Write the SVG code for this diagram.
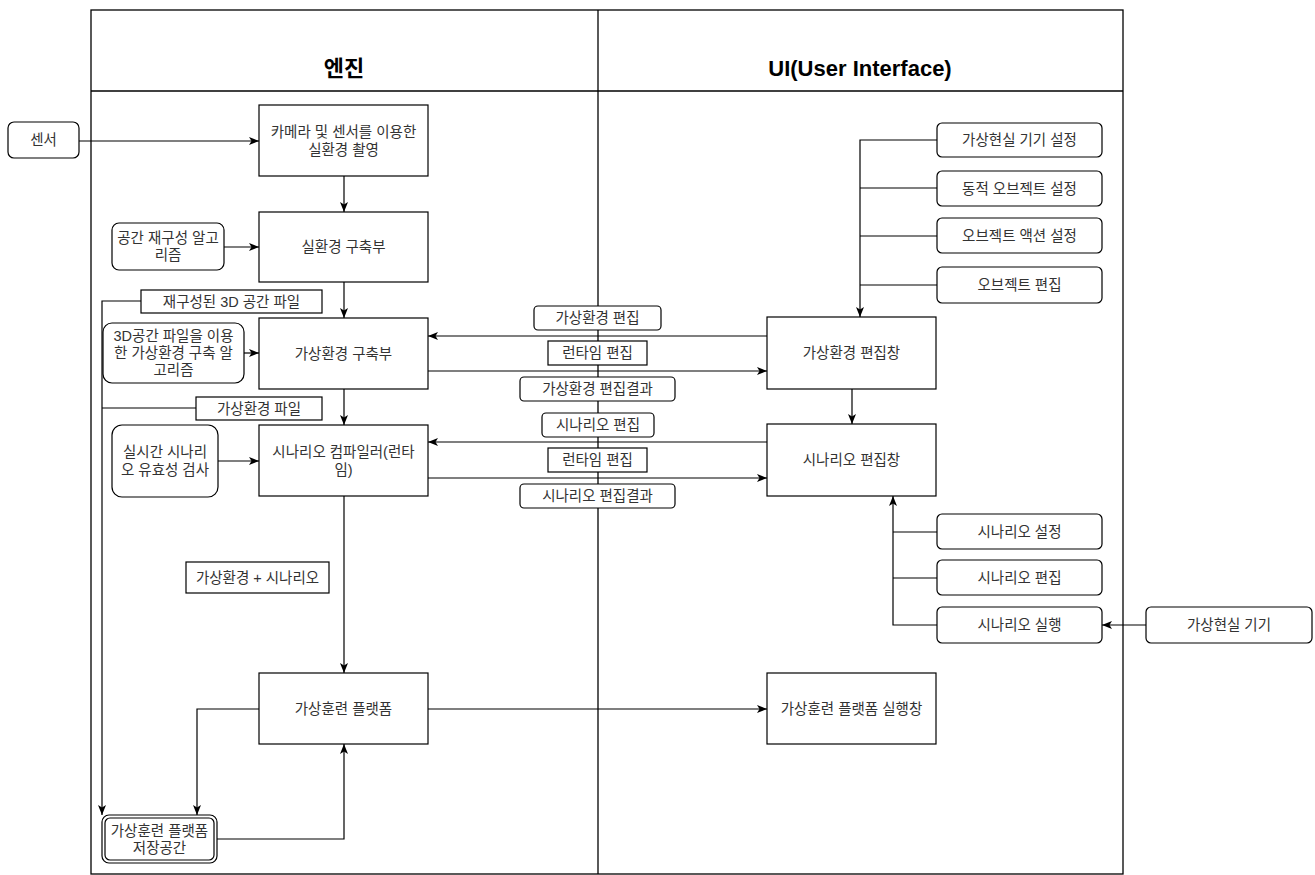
<svg xmlns="http://www.w3.org/2000/svg" width="1315" height="875" viewBox="0 0 1315 875">
<defs>
<marker id="arr" markerWidth="10" markerHeight="8" refX="10" refY="4" orient="auto" markerUnits="userSpaceOnUse">
<path d="M0,0 L10,4 L0,8 L2.5,4 z" fill="#000"/>
</marker>
<style>
.box{fill:#fff;stroke:#000;stroke-width:1.2}
.t{font-family:"Liberation Sans","Noto Sans CJK KR",sans-serif;font-size:14.5px;fill:#333;text-anchor:middle;dominant-baseline:central}
.h{font-family:"Liberation Sans","Noto Sans CJK KR",sans-serif;font-size:22px;font-weight:bold;fill:#000;text-anchor:middle}
.c{fill:none;stroke:#000;stroke-width:1.2}
.ca{fill:none;stroke:#000;stroke-width:1.2;marker-end:url(#arr)}
</style>
</defs>
<rect width="1315" height="875" fill="#fff"/>
<g id="pool">
<rect x="91" y="10" width="1032" height="864" fill="none" stroke="#000" stroke-width="1.3"/>
<line x1="91" y1="91" x2="1123" y2="91" stroke="#000" stroke-width="1.3"/>
<line x1="598" y1="10" x2="598" y2="874" stroke="#000" stroke-width="1.3"/>
<text class="h" x="344" y="76">엔진</text>
<text class="h" x="860" y="76">UI(User Interface)</text>
</g>
<g id="connectors">
<path class="ca" d="M79,141 L259,141"/>
<path class="ca" d="M344,176 L344,212"/>
<path class="ca" d="M224,247 L259,247"/>
<path class="ca" d="M344,282 L344,318"/>
<path class="ca" d="M244,353 L259,353"/>
<path class="ca" d="M344,389 L344,425"/>
<path class="ca" d="M218,461 L259,461"/>
<path class="ca" d="M344,496 L344,673"/>
<path class="ca" d="M259,709 L197,709 L197,815"/>
<path class="ca" d="M217,839 L344,839 L344,744"/>
<path class="ca" d="M428,709 L767,709"/>
<path class="ca" d="M141,301 L102,301 L102,815"/>
<path class="c" d="M196,408 L102,408"/>
<path class="ca" d="M767,336 L428,336"/>
<path class="ca" d="M428,371 L767,371"/>
<path class="ca" d="M852,389 L852,424"/>
<path class="ca" d="M767,442 L428,442"/>
<path class="ca" d="M428,478 L767,478"/>
<path class="ca" d="M937,140 L860,140 L860,317"/>
<path class="c" d="M937,188 L860,188"/>
<path class="c" d="M937,236 L860,236"/>
<path class="c" d="M937,285 L860,285"/>
<path class="ca" d="M937,625 L893,625 L893,496"/>
<path class="c" d="M937,532 L893,532"/>
<path class="c" d="M937,578 L893,578"/>
<path class="ca" d="M1146,625 L1102,625"/>
</g>
<g id="sensor"><rect class="box" x="8" y="122" width="71" height="36" rx="6"/><text class="t" x="43.5" y="140">센서</text></g>
<g id="camera"><rect class="box" x="259" y="105" width="169" height="71"/><text class="t" x="343.5" y="132">카메라 및 센서를 이용한</text><text class="t" x="343.5" y="150">실환경 촬영</text></g>
<g id="real-env"><rect class="box" x="259" y="212" width="169" height="70"/><text class="t" x="343.5" y="247">실환경 구축부</text></g>
<g id="space-algo"><rect class="box" x="112" y="223" width="112" height="47" rx="7"/><text class="t" x="168" y="238">공간 재구성 알고</text><text class="t" x="168" y="255">리즘</text></g>
<g id="label-3dfile"><rect class="box" x="141" y="290" width="181" height="23"/><text class="t" x="231.5" y="301.5">재구성된 3D 공간 파일</text></g>
<g id="virtual-env"><rect class="box" x="259" y="318" width="169" height="71"/><text class="t" x="343.5" y="353.5">가상환경 구축부</text></g>
<g id="vr-algo"><rect class="box" x="103" y="323" width="141" height="60" rx="9"/><text class="t" x="173.5" y="336">3D공간 파일을 이용</text><text class="t" x="173.5" y="353">한 가상환경 구축 알</text><text class="t" x="173.5" y="370">고리즘</text></g>
<g id="label-vrfile"><rect class="box" x="196" y="397" width="126" height="23"/><text class="t" x="259" y="408.5">가상환경 파일</text></g>
<g id="compiler"><rect class="box" x="259" y="425" width="169" height="71"/><text class="t" x="343.5" y="452">시나리오 컴파일러(런타</text><text class="t" x="343.5" y="470">임)</text></g>
<g id="validity"><rect class="box" x="112" y="425" width="106" height="72" rx="10"/><text class="t" x="165" y="452">실시간 시나리</text><text class="t" x="165" y="470">오 유효성 검사</text></g>
<g id="label-vr-scn"><rect class="box" x="186" y="562" width="143" height="31"/><text class="t" x="257.5" y="577.5">가상환경 + 시나리오</text></g>
<g id="platform"><rect class="box" x="259" y="673" width="169" height="71"/><text class="t" x="343.5" y="709">가상훈련 플랫폼</text></g>
<g id="storage"><rect class="box" x="102" y="815" width="115" height="48" rx="7"/><rect x="105" y="818" width="109" height="42" rx="5" fill="none" stroke="#000" stroke-width="1.2"/><text class="t" x="159.5" y="831">가상훈련 플랫폼</text><text class="t" x="159.5" y="848">저장공간</text></g>
<g id="label-vr-edit"><rect class="box" x="534" y="306" width="127" height="24" rx="4"/><text class="t" x="597.5" y="318">가상환경 편집</text></g>
<g id="label-rt-edit1"><rect class="box" x="548" y="341" width="99" height="24"/><text class="t" x="597.5" y="353">런타임 편집</text></g>
<g id="label-vr-result"><rect class="box" x="520" y="377" width="155" height="24" rx="4"/><text class="t" x="597.5" y="389">가상환경 편집결과</text></g>
<g id="label-scn-edit"><rect class="box" x="542" y="413" width="112" height="24" rx="4"/><text class="t" x="598" y="425">시나리오 편집</text></g>
<g id="label-rt-edit2"><rect class="box" x="548" y="448" width="99" height="24"/><text class="t" x="597.5" y="460">런타임 편집</text></g>
<g id="label-scn-result"><rect class="box" x="520" y="484" width="155" height="24" rx="4"/><text class="t" x="597.5" y="496">시나리오 편집결과</text></g>
<g id="vr-editor"><rect class="box" x="767" y="317" width="169" height="72"/><text class="t" x="851.5" y="353">가상환경 편집창</text></g>
<g id="scn-editor"><rect class="box" x="767" y="424" width="169" height="72"/><text class="t" x="851.5" y="460">시나리오 편집창</text></g>
<g id="platform-window"><rect class="box" x="767" y="673" width="169" height="71"/><text class="t" x="851.5" y="709">가상훈련 플랫폼 실행창</text></g>
<g id="vr-device-setting"><rect class="box" x="937" y="123" width="165" height="34" rx="5"/><text class="t" x="1019.5" y="140">가상현실 기기 설정</text></g>
<g id="dyn-object"><rect class="box" x="937" y="171" width="165" height="35" rx="5"/><text class="t" x="1019.5" y="188.5">동적 오브젝트 설정</text></g>
<g id="object-action"><rect class="box" x="937" y="218" width="165" height="35" rx="5"/><text class="t" x="1019.5" y="235.5">오브젝트 액션 설정</text></g>
<g id="object-edit"><rect class="box" x="937" y="267" width="165" height="36" rx="5"/><text class="t" x="1019.5" y="285">오브젝트 편집</text></g>
<g id="scn-setting"><rect class="box" x="937" y="514" width="165" height="35" rx="5"/><text class="t" x="1019.5" y="531.5">시나리오 설정</text></g>
<g id="scn-edit"><rect class="box" x="937" y="560" width="165" height="35" rx="5"/><text class="t" x="1019.5" y="577.5">시나리오 편집</text></g>
<g id="scn-run"><rect class="box" x="937" y="607" width="165" height="36" rx="5"/><text class="t" x="1019.5" y="625">시나리오 실행</text></g>
<g id="vr-device"><rect class="box" x="1146" y="607" width="166" height="36" rx="5"/><text class="t" x="1229" y="625">가상현실 기기</text></g>
</svg>
